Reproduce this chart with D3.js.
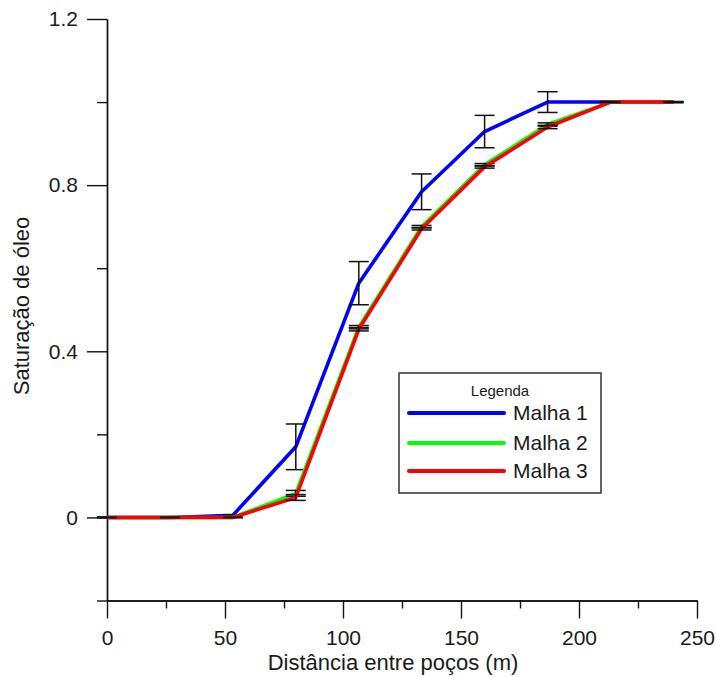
<!DOCTYPE html>
<html>
<head>
<meta charset="utf-8">
<script src="https://cdn.jsdelivr.net/npm/d3@7"></script>
<style>
  html, body { margin: 0; padding: 0; background: #fff; }
  svg { display: block; }
  text { font-family: "Liberation Sans", Arial, sans-serif; fill: #1a1a1a; }
</style>
</head>
<body>
<svg id="chart" width="716" height="677"></svg>
<script>
// Distância entre poços (m) at each sampled position
const distancia = [0, 26.7, 53.3, 80, 106.7, 133.3, 160, 186.7, 213.3, 240];

// Saturação de óleo per mesh, with its error bar half-height
const malha1 = [0, 0, 0.005, 0.170, 0.564, 0.784, 0.929, 1.0, 1.0, 1.0];
const erro1  = [0, 0, 0, 0.055, 0.052, 0.043, 0.039, 0.025, 0.001, 0.001];
const malha2 = [0, 0, 0, 0.058, 0.458, 0.700, 0.849, 0.946, 1.0, 1.0];
const erro2  = [0, 0, 0, 0.007, 0.004, 0.003, 0.003, 0.004, 0.001, 0.001];
const malha3 = [0, 0, 0, 0.048, 0.453, 0.695, 0.844, 0.940, 1.0, 1.0];
const erro3  = [0, 0, 0, 0.007, 0.004, 0.003, 0.003, 0.004, 0.001, 0.001];

const serieNomes = ["Malha 1", "Malha 2", "Malha 3"];
const serieCores = ["#0000ff", "#00ff00", "#ff0000"];

const xMajor = [0, 50, 100, 150, 200, 250];
const xMinor = [25, 75, 125, 175, 225];
const yMajor = [0, 0.4, 0.8, 1.2];
const yMinor = [-0.2, 0.2, 0.6, 1.0];

const svg = d3.select("#chart");

const x = d3.scaleLinear().domain([0, 250]).range([107, 697]);
const y = d3.scaleLinear().domain([-0.2, 1.2]).range([600.5, 19]);

const x0 = x(0), yBase = y(-0.2);

// ---- axes ----
function styleAxis(g) {
  g.selectAll("path.domain").attr("stroke", "#111").attr("stroke-width", 1.4);
  g.selectAll(".tick line").attr("stroke", "#111").attr("stroke-width", 1.4);
  g.selectAll(".tick text")
    .attr("font-size", 21)
    .attr("font-family", "'Liberation Sans', Arial, sans-serif")
    .attr("fill", "#1a1a1a");
}

// y axis: major ticks with labels, minor ticks without
svg.append("g")
  .attr("transform", `translate(${x0},0)`)
  .call(d3.axisLeft(y).tickValues(yMinor).tickSize(10).tickSizeOuter(0).tickFormat(""))
  .call(styleAxis);
svg.append("g")
  .attr("transform", `translate(${x0},0)`)
  .call(d3.axisLeft(y).tickValues(yMajor).tickSize(20).tickSizeOuter(0)
    .tickPadding(9).tickFormat(d => d === 0 ? "0" : d3.format(".1f")(d)))
  .call(styleAxis);

// x axis
svg.append("g")
  .attr("transform", `translate(0,${yBase})`)
  .call(d3.axisBottom(x).tickValues(xMinor).tickSize(8).tickSizeOuter(0).tickFormat(""))
  .call(styleAxis);
svg.append("g")
  .attr("transform", `translate(0,${yBase})`)
  .call(d3.axisBottom(x).tickValues(xMajor).tickSize(18).tickSizeOuter(0).tickPadding(12)
    .tickFormat(d3.format("d")))
  .call(styleAxis);

// axis titles
svg.append("text")
  .attr("x", 393).attr("y", 670)
  .attr("text-anchor", "middle")
  .attr("font-size", 22)
  .text("Distância entre poços (m)");

svg.append("text")
  .attr("transform", "translate(29,306) rotate(-90)")
  .attr("text-anchor", "middle")
  .attr("font-size", 22)
  .text("Saturação de óleo");

// ---- series ----
const series = [
  { nome: serieNomes[0], cor: serieCores[0], valores: malha1, erros: erro1 },
  { nome: serieNomes[1], cor: serieCores[1], valores: malha2, erros: erro2 },
  { nome: serieNomes[2], cor: serieCores[2], valores: malha3, erros: erro3 }
];

const line = d3.line()
  .x(d => x(d.x))
  .y(d => y(d.v));

const capHalf = 10;

series.forEach(s => {
  const pts = distancia.map((d, i) => ({ x: d, v: s.valores[i], e: s.erros[i] }));

  svg.append("path")
    .datum(pts)
    .attr("fill", "none")
    .attr("stroke", s.cor)
    .attr("stroke-width", 3.6)
    .attr("stroke-linejoin", "round")
    .attr("d", line);

  const eb = svg.append("g").attr("stroke", "#111").attr("stroke-width", 1.5);
  const g = eb.selectAll("g").data(pts).join("g");
  g.append("line")
    .attr("x1", d => x(d.x)).attr("x2", d => x(d.x))
    .attr("y1", d => y(d.v + d.e)).attr("y2", d => y(d.v - d.e));
  g.append("line")
    .attr("x1", d => x(d.x) - capHalf).attr("x2", d => x(d.x) + capHalf)
    .attr("y1", d => y(d.v + d.e)).attr("y2", d => y(d.v + d.e));
  g.append("line")
    .attr("x1", d => x(d.x) - capHalf).attr("x2", d => x(d.x) + capHalf)
    .attr("y1", d => y(d.v - d.e)).attr("y2", d => y(d.v - d.e));
});

// ---- legend ----
const leg = svg.append("g");
leg.append("rect")
  .attr("x", 399).attr("y", 373)
  .attr("width", 202).attr("height", 120)
  .attr("fill", "#fff")
  .attr("stroke", "#333").attr("stroke-width", 1.5);

leg.append("text")
  .attr("x", 500).attr("y", 396)
  .attr("text-anchor", "middle")
  .attr("font-size", 15)
  .text("Legenda");

const legY = [413, 443, 471];
series.forEach((s, i) => {
  leg.append("line")
    .attr("x1", 409).attr("x2", 504)
    .attr("y1", legY[i]).attr("y2", legY[i])
    .attr("stroke", s.cor).attr("stroke-width", 4)
    .attr("stroke-linecap", "round");
  leg.append("text")
    .attr("x", 513).attr("y", legY[i] + 7)
    .attr("font-size", 21)
    .text(s.nome);
});
</script>
</body>
</html>
